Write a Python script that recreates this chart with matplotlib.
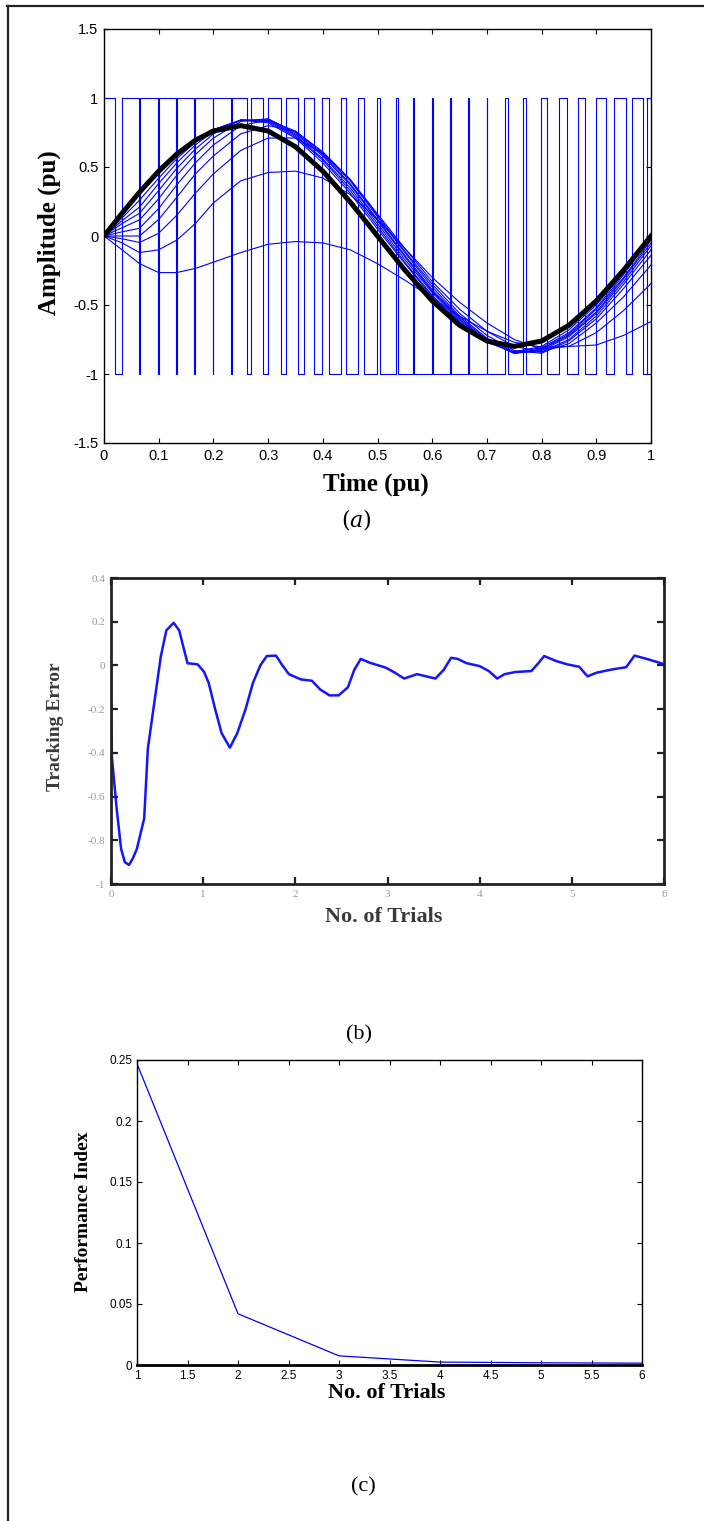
import numpy as np
import matplotlib
matplotlib.use("Agg")
import matplotlib.pyplot as plt
from matplotlib.lines import Line2D

W, H = 704, 1521

# ---- panel (a): PWM switching instants (signal starts high, toggles at each edge)
pwm_edges = [
    0.021, 0.0335, 0.0646, 0.0658, 0.0990, 0.1002, 0.1316, 0.1340,
    0.1651, 0.1669, 0.1987, 0.1999, 0.2316, 0.2334, 0.2608, 0.2681,
    0.2913, 0.2992, 0.3230, 0.3327, 0.3553, 0.3656, 0.3839, 0.3979,
    0.4119, 0.4327, 0.4424, 0.4650, 0.4753, 0.4984, 0.5046, 0.5332,
    0.5369, 0.5655, 0.5673, 0.6002, 0.6020, 0.6325, 0.6337, 0.6660,
    0.6680, 0.6996, 0.7008, 0.7331, 0.7380, 0.7654, 0.7715, 0.7995,
    0.8093, 0.8318, 0.8459, 0.8659, 0.8794, 0.8995, 0.9177, 0.9330,
    0.9543, 0.9659, 0.9860, 0.9921,
]

# time knots of the traced curves
t_knots = [0, 0.033, 0.065, 0.1, 0.133, 0.167, 0.2, 0.25, 0.3, 0.35, 0.4, 0.45,
           0.5, 0.55, 0.6, 0.65, 0.7, 0.75, 0.8, 0.85, 0.9, 0.95, 1.0]

reference = [0, 0.165, 0.318, 0.47, 0.594, 0.694, 0.761, 0.8, 0.761, 0.647, 0.47, 0.247,
             0, -0.247, -0.47, -0.647, -0.761, -0.8, -0.761, -0.647, -0.47, -0.247, 0]

# learning iterations, first (worst) to last
iterations = [
    [0, -.10, -.20, -.265, -.265, -.235, -.19, -.12, -.06, -.04, -.05, -.10, -.20, -.32, -.45, -.58, -.69, -.77, -.805, -.80, -.79, -.72, -.62],
    [0, -.05, -.12, -.10, -.03, .09, .24, .40, .46, .47, .42, .30, .12, -.09, -.30, -.48, -.63, -.75, -.82, -.80, -.70, -.54, -.345],
    [0, -.02, -.047, .02, .15, .31, .45, .62, .71, .71, .60, .41, .16, -.09, -.33, -.53, -.69, -.80, -.84, -.78, -.63, -.44, -.21],
    [0, .0, .0, .12, .28, .45, .58, .74, .80, .76, .61, .41, .15, -.11, -.35, -.56, -.72, -.83, -.85, -.76, -.60, -.38, -.14],
    [0, .03, .056, .20, .37, .53, .66, .80, .84, .76, .60, .40, .14, -.12, -.37, -.58, -.74, -.84, -.84, -.75, -.58, -.35, -.10],
    [0, .06, .117, .27, .44, .59, .71, .83, .85, .75, .59, .38, .12, -.14, -.39, -.59, -.75, -.85, -.83, -.73, -.56, -.33, -.07],
    [0, .09, .165, .33, .49, .63, .74, .84, .84, .74, .58, .37, .11, -.15, -.40, -.60, -.76, -.85, -.82, -.72, -.55, -.31, -.05],
    [0, .11, .21, .38, .53, .66, .76, .84, .84, .73, .56, .35, .09, -.17, -.41, -.61, -.76, -.85, -.82, -.71, -.53, -.30, -.03],
    [0, .13, .26, .42, .56, .68, .77, .84, .83, .72, .55, .33, .07, -.19, -.43, -.62, -.77, -.84, -.81, -.70, -.52, -.28, -.01],
    [0, .15, .31, .45, .58, .69, .77, .84, .82, .71, .53, .31, .05, -.20, -.44, -.63, -.77, -.84, -.80, -.68, -.50, -.27, 0],
]

a_xticks = [0, 0.1, 0.2, 0.3, 0.4, 0.5, 0.6, 0.7, 0.8, 0.9, 1]
a_xlabels = ["0", "0.1", "0.2", "0.3", "0.4", "0.5", "0.6", "0.7", "0.8", "0.9", "1"]
a_yticks = [-1.5, -1, -0.5, 0, 0.5, 1, 1.5]
a_ylabels = ["-1.5", "-1", "-0.5", "0", "0.5", "1", "1.5"]

# ---- panel (b): tracking error
trk_x = [0, 0, 0.01, 0.06, 0.11, 0.15, 0.195, 0.24, 0.28, 0.36, 0.40, 0.47, 0.54, 0.60,
         0.68, 0.74, 0.83, 0.94, 1.01, 1.06, 1.13, 1.20, 1.29, 1.37, 1.46, 1.54, 1.62,
         1.69, 1.79, 1.86, 1.93, 2.06, 2.18, 2.27, 2.37, 2.47, 2.57, 2.64, 2.71, 2.81,
         2.98, 3.08, 3.18, 3.32, 3.42, 3.52, 3.61, 3.69, 3.76, 3.86, 4.00, 4.10, 4.19,
         4.27, 4.39, 4.56, 4.64, 4.70, 4.83, 4.95, 5.08, 5.17, 5.27, 5.44, 5.59, 5.68,
         5.81, 5.93, 6.0]
trk_y = [0, -0.15, -0.42, -0.65, -0.84, -0.90, -0.913, -0.88, -0.84, -0.70, -0.38, -0.17,
         0.04, 0.16, 0.195, 0.16, 0.01, 0.005, -0.03, -0.08, -0.20, -0.31, -0.376, -0.31,
         -0.20, -0.08, 0.0, 0.043, 0.045, 0.0, -0.04, -0.064, -0.07, -0.11, -0.137,
         -0.137, -0.10, -0.02, 0.03, 0.012, -0.01, -0.033, -0.06, -0.04, -0.05, -0.06,
         -0.02, 0.035, 0.03, 0.01, -0.003, -0.026, -0.06, -0.04, -0.03, -0.026, 0.012,
         0.043, 0.02, 0.005, -0.006, -0.05, -0.033, -0.018, -0.008, 0.045, 0.03, 0.015,
         0.005]
b_yticks = [-1, -0.8, -0.6, -0.4, -0.2, 0, 0.2, 0.4]
b_ylabels = ["-1", "-0.8", "-0.6", "-0.4", "-0.2", "0", "0.2", "0.4"]
b_xticks = [0, 1, 2, 3, 4, 5, 6]

# ---- panel (c): performance index
trials = [1, 2, 3, 4, 5, 6]
perf = [0.247, 0.042, 0.0075, 0.0024, 0.0018, 0.0015]
c_xticks = [1, 1.5, 2, 2.5, 3, 3.5, 4, 4.5, 5, 5.5, 6]
c_xlabels = ["1", "1.5", "2", "2.5", "3", "3.5", "4", "4.5", "5", "5.5", "6"]
c_yticks = [0, 0.05, 0.1, 0.15, 0.2, 0.25]
c_ylabels = ["0", "0.05", "0.1", "0.15", "0.2", "0.25"]

plt.rcParams['font.family'] = ['Liberation Sans', 'DejaVu Sans']
serif = 'Liberation Serif'
blue = '#0000ff'


def box(left, top, right, bottom):
    """pixel box -> figure rect"""
    return [left / W, 1 - bottom / H, (right - left) / W, (bottom - top) / H]


def ftext(x, y, s, **kw):
    fig.text(x / W, 1 - y / H, s, ha='center', va='center', **kw)


fig = plt.figure(figsize=(W / 100, H / 100), dpi=100)

# page frame (top and left rule)
fig.add_artist(Line2D([7 / W, 1.0], [1 - 6 / H, 1 - 6 / H], color='#222222', lw=1.6))
fig.add_artist(Line2D([8 / W, 8 / W], [0, 1 - 6 / H], color='#222222', lw=1.6))

# ---------------- (a)
ax = fig.add_axes(box(104, 29, 651, 443))
px, py = [0.0], [1.0]
level = 1.0
for e in pwm_edges:
    px += [e, e]
    py += [level, -level]
    level = -level
px.append(1.0)
py.append(level)
ax.plot(px, py, color=blue, lw=0.8)
for it in iterations:
    ax.plot(t_knots, it, color=blue, lw=0.8)
ax.plot(t_knots, reference, color='black', lw=3.6, solid_joinstyle='round')
ax.set_xlim(0, 1)
ax.set_ylim(-1.5, 1.5)
ax.set_xticks(a_xticks)
ax.set_xticklabels(a_xlabels)
ax.set_yticks(a_yticks)
ax.set_yticklabels(a_ylabels)
ax.tick_params(direction='in', top=True, right=True, length=3.5, width=0.8,
               labelsize=10.5, pad=4)
for s in ax.spines.values():
    s.set_linewidth(1.0)
ftext(49, 233, "Amplitude (pu)", rotation=90, family=serif, weight='bold', fontsize=18)
ftext(376, 484, "Time (pu)", family=serif, weight='bold', fontsize=18)
ftext(356, 520, r"$(a)$", fontsize=16, math_fontfamily='dejavuserif')

# ---------------- (b)
ax = fig.add_axes(box(111, 578, 664, 884))
ax.plot(trk_x, trk_y, color='#1414ff', lw=1.8)
ax.set_xlim(0, 6)
ax.set_ylim(-1, 0.4)
ax.set_xticks(b_xticks)
ax.set_yticks(b_yticks)
ax.set_yticklabels(b_ylabels)
ax.tick_params(direction='in', top=True, right=True, length=5, width=1.6,
               labelsize=8, labelcolor='#9a9a9a', pad=4, color='#222222')
for lab in ax.get_xticklabels() + ax.get_yticklabels():
    lab.set_family(serif)
for s in ax.spines.values():
    s.set_linewidth(2.0)
    s.set_color('#222222')
ftext(56, 727, "Tracking Error", rotation=90, family=serif, weight='bold',
      fontsize=14, color='#3a3a3a')
ftext(384, 917, "No. of Trials", family=serif, weight='bold', fontsize=16,
      color='#3a3a3a')
ftext(359, 1035, "(b)", family=serif, fontsize=16)

# ---------------- (c)
ax = fig.add_axes(box(137, 1060, 642, 1365))
ax.plot(trials, perf, color=blue, lw=0.9)
ax.set_xlim(1, 6)
ax.set_ylim(0, 0.25)
ax.set_xticks(c_xticks)
ax.set_xticklabels(c_xlabels)
ax.set_yticks(c_yticks)
ax.set_yticklabels(c_ylabels)
ax.tick_params(direction='in', top=True, right=True, length=3.5, width=0.8,
               labelsize=8.5, pad=3.5)
for s in ax.spines.values():
    s.set_linewidth(1.0)
ax.spines['bottom'].set_linewidth(2.0)
ftext(83, 1212, "Performance Index", rotation=90, family=serif, weight='bold', fontsize=14)
ftext(387, 1393, "No. of Trials", family=serif, weight='bold', fontsize=16)
ftext(363, 1487, "(c)", family=serif, fontsize=16)

fig.savefig("out.png", dpi=100)
